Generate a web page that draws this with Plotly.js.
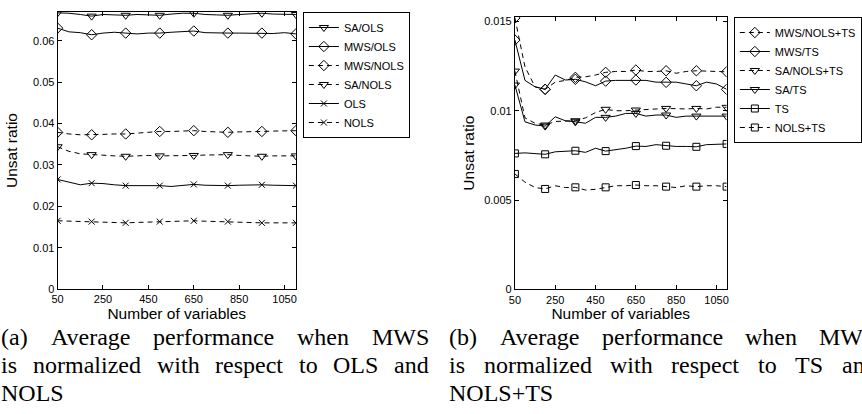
<!DOCTYPE html>
<html><head><meta charset="utf-8">
<script src="https://cdn.plot.ly/plotly-3.0.1.min.js"></script>
<style>html,body{margin:0;padding:0;background:#fff;overflow:hidden}#chart{width:862px;height:414px}</style>
</head><body><div id="chart"></div>
<script>
// ---------- data ----------
const numVariables = [50,100,150,200,250,300,350,400,450,500,550,600,650,700,750,800,850,900,950,1000,1050,1100];

// panel (a)
const saOls    = [0.0668,0.0667,0.0664,0.0660,0.0664,0.0663,0.0662,0.0664,0.0663,0.0662,0.0665,0.0667,0.0667,0.0664,0.0663,0.0662,0.0664,0.0666,0.0667,0.0665,0.0665,0.0664];
const mwsOls   = [0.0631,0.0622,0.0620,0.0615,0.0619,0.0621,0.0619,0.0617,0.0619,0.0619,0.0621,0.0622,0.0624,0.0620,0.0619,0.0619,0.0619,0.0619,0.0619,0.0618,0.0620,0.0617];
const mwsNols  = [0.0379,0.0375,0.0373,0.0373,0.0374,0.0375,0.0375,0.0377,0.0379,0.0381,0.0381,0.0382,0.0383,0.0381,0.0380,0.0379,0.0380,0.0380,0.0381,0.0382,0.0383,0.0383];
const saNols   = [0.0344,0.0333,0.0327,0.0325,0.0324,0.0322,0.0321,0.0322,0.0323,0.0322,0.0322,0.0323,0.0323,0.0324,0.0325,0.0325,0.0323,0.0322,0.0321,0.0322,0.0322,0.0322];
const ols      = [0.0265,0.0258,0.0252,0.0256,0.0255,0.0252,0.0250,0.0250,0.0250,0.0250,0.0248,0.0251,0.0253,0.0251,0.0250,0.0250,0.0251,0.0252,0.0252,0.0251,0.0250,0.0250];
const nols     = [0.0165,0.0164,0.0164,0.0163,0.0162,0.0161,0.0160,0.0161,0.0162,0.0163,0.0163,0.0164,0.0165,0.0164,0.0163,0.0163,0.0162,0.0161,0.0160,0.0160,0.0160,0.0160];

// panel (b)
const mwsNolsTs = [0.0152,0.01246,0.01134,0.0112,0.0116,0.0117,0.01187,0.0119,0.0120,0.01215,0.0122,0.0122,0.01228,0.0122,0.0122,0.01224,0.0121,0.0122,0.01224,0.0122,0.0122,0.01218];
const mwsTs     = [0.01396,0.0117,0.01134,0.0112,0.0120,0.01172,0.01176,0.01162,0.0114,0.01166,0.0117,0.0117,0.01172,0.0117,0.0116,0.01159,0.0116,0.0115,0.0114,0.0116,0.0115,0.0112];
const saNolsTs  = [0.01222,0.0096,0.0093,0.0092,0.0094,0.0094,0.00944,0.0096,0.0099,0.01008,0.0100,0.0100,0.01004,0.0101,0.0101,0.01013,0.0101,0.0101,0.01013,0.0101,0.0102,0.01019];
const saTs      = [0.01144,0.00938,0.0092,0.00914,0.00966,0.00944,0.00938,0.0093,0.00963,0.00963,0.0097,0.00985,0.00985,0.0097,0.00976,0.00976,0.00963,0.0097,0.0097,0.0097,0.0097,0.0097];
const ts        = [0.00761,0.00764,0.0076,0.00756,0.0077,0.00772,0.00776,0.00767,0.0079,0.00774,0.0078,0.0079,0.00802,0.0080,0.0081,0.00804,0.0080,0.0080,0.00798,0.0081,0.0081,0.00814];
const nolsTs    = [0.00646,0.0060,0.0057,0.00562,0.0058,0.0057,0.00571,0.00556,0.0056,0.00571,0.0058,0.0058,0.00584,0.0058,0.0058,0.00575,0.0057,0.0058,0.00575,0.0058,0.0058,0.00575];

const xTickVals = [50,250,450,650,850,1050];
const yTickValsA = [0,0.01,0.02,0.03,0.04,0.05,0.06];
const yTickValsB = [0,0.005,0.01,0.015];

const captionA = ['(a) Average performance when MWS','is normalized with respect to OLS and','NOLS'];
const captionB = ['(b) Average performance when MWS','is normalized with respect to TS and','NOLS+TS'];

// ---------- styling ----------
const W = 862, H = 414;
const SANS = 'Liberation Sans, Arial, sans-serif';
const SERIF = 'Liberation Serif, Times New Roman, serif';
const markerColors = numVariables.map((v,i) => i % 3 === 0 ? 'black' : 'rgba(0,0,0,0)');

function series(name, y, symbol, dashed, axis, legend, size) {
  return {
    type:'scatter', mode:'lines+markers', name:name, x:numVariables, y:y,
    xaxis: axis === 1 ? 'x' : 'x2', yaxis: axis === 1 ? 'y' : 'y2',
    legend: legend,
    line:{color:'black', width:1, dash: dashed ? '5px,4px' : 'solid'},
    marker:{symbol:symbol, size:size || 8, color:markerColors, line:{width:1}},
    hoverinfo:'skip'
  };
}

const data = [
  series('SA/OLS', saOls, 'triangle-down-open', false, 1, 'legend'),
  series('MWS/OLS', mwsOls, 'diamond-open', false, 1, 'legend'),
  series('MWS/NOLS', mwsNols, 'diamond-open', true, 1, 'legend'),
  series('SA/NOLS', saNols, 'triangle-down-open', true, 1, 'legend'),
  series('OLS', ols, 'x-thin-open', false, 1, 'legend', 6),
  series('NOLS', nols, 'x-thin-open', true, 1, 'legend', 6),
  series('MWS/NOLS+TS', mwsNolsTs, 'diamond-open', true, 2, 'legend2'),
  series('MWS/TS', mwsTs, 'diamond-open', false, 2, 'legend2'),
  series('SA/NOLS+TS', saNolsTs, 'triangle-down-open', true, 2, 'legend2'),
  series('SA/TS', saTs, 'triangle-down-open', false, 2, 'legend2'),
  series('TS', ts, 'square-open', false, 2, 'legend2', 7),
  series('NOLS+TS', nolsTs, 'square-open', true, 2, 'legend2', 7)
];

function xAxis(domain, anchor) {
  return {domain:domain, anchor:anchor, range:[50,1100], tickvals:xTickVals, automargin:'height',
    ticks:'inside', ticklen:4, tickcolor:'black', showline:true, linecolor:'black', linewidth:1,
    mirror:'ticks', showgrid:false, zeroline:false, tickfont:{family:SANS, size:11, color:'black'},
    title:{text:'Number of variables', font:{family:SANS, size:15.5, color:'black'}, standoff:0}};
}
function yAxis(domain, anchor, range, tickvals) {
  return {domain:domain, anchor:anchor, range:range, tickvals:tickvals,
    ticks:'inside', ticklen:4, tickcolor:'black', showline:true, linecolor:'black', linewidth:1,
    mirror:'ticks', showgrid:false, zeroline:false, tickfont:{family:SANS, size:11, color:'black'},
    title:{text:'Unsat ratio', font:{family:SANS, size:15.5, color:'black'}}};
}

// justified caption lines, measured with the same font
const CAP_SIZE = 24;
const ctx = document.createElement('canvas').getContext('2d');
ctx.font = CAP_SIZE + 'px "Liberation Serif"';
function captionAnnotations(lines, left, width, firstCenter, lineGap) {
  const out = [];
  lines.forEach((line, li) => {
    const cy = firstCenter + li * lineGap;
    const words = line.split(' ');
    const widths = words.map(w => ctx.measureText(w).width);
    const total = widths.reduce((a,b)=>a+b,0);
    const last = li === lines.length - 1;
    const gap = (!last && words.length > 1) ? (width - total) / (words.length - 1) : ctx.measureText(' ').width;
    let px = left;
    words.forEach((w, wi) => {
      out.push({text:w, xref:'paper', yref:'paper', x:px / W, y:1 - cy / H,
        xanchor:'left', yanchor:'middle', showarrow:false, borderpad:0,
        font:{family:SERIF, size:CAP_SIZE, color:'black'}});
      px += widths[wi] + gap;
    });
  });
  return out;
}

const legendBase = {bordercolor:'black', borderwidth:1, bgcolor:'white',
  font:{family:SANS, size:11, color:'black'}, tracegroupgap:0, itemwidth:30,
  xanchor:'left', yanchor:'top', itemclick:false, itemdoubleclick:false};

const layout = {
  width:W, height:H, margin:{l:0, r:0, t:0, b:0},
  paper_bgcolor:'white', plot_bgcolor:'white', showlegend:true,
  xaxis: xAxis([58/W, 298/W], 'y'),
  yaxis: yAxis([1-289/H, 1-12/H], 'x', [0, 0.067], yTickValsA),
  xaxis2: xAxis([518.5/W, 731.7/W], 'y2'),
  yaxis2: yAxis([1-289.3/H, 1-17/H], 'x2', [0, 0.01525], yTickValsB),
  legend: Object.assign({}, legendBase, {x:305/W, y:1-12/H}),
  legend2: Object.assign({}, legendBase, {x:739/W, y:1-17/H}),
  annotations: captionAnnotations(captionA, 0.5, 430, 337, 28)
    .concat(captionAnnotations(captionB, 451.5, 430, 337, 28))
};

Plotly.newPlot('chart', data, layout, {staticPlot:true, displayModeBar:false});
</script></body></html>
